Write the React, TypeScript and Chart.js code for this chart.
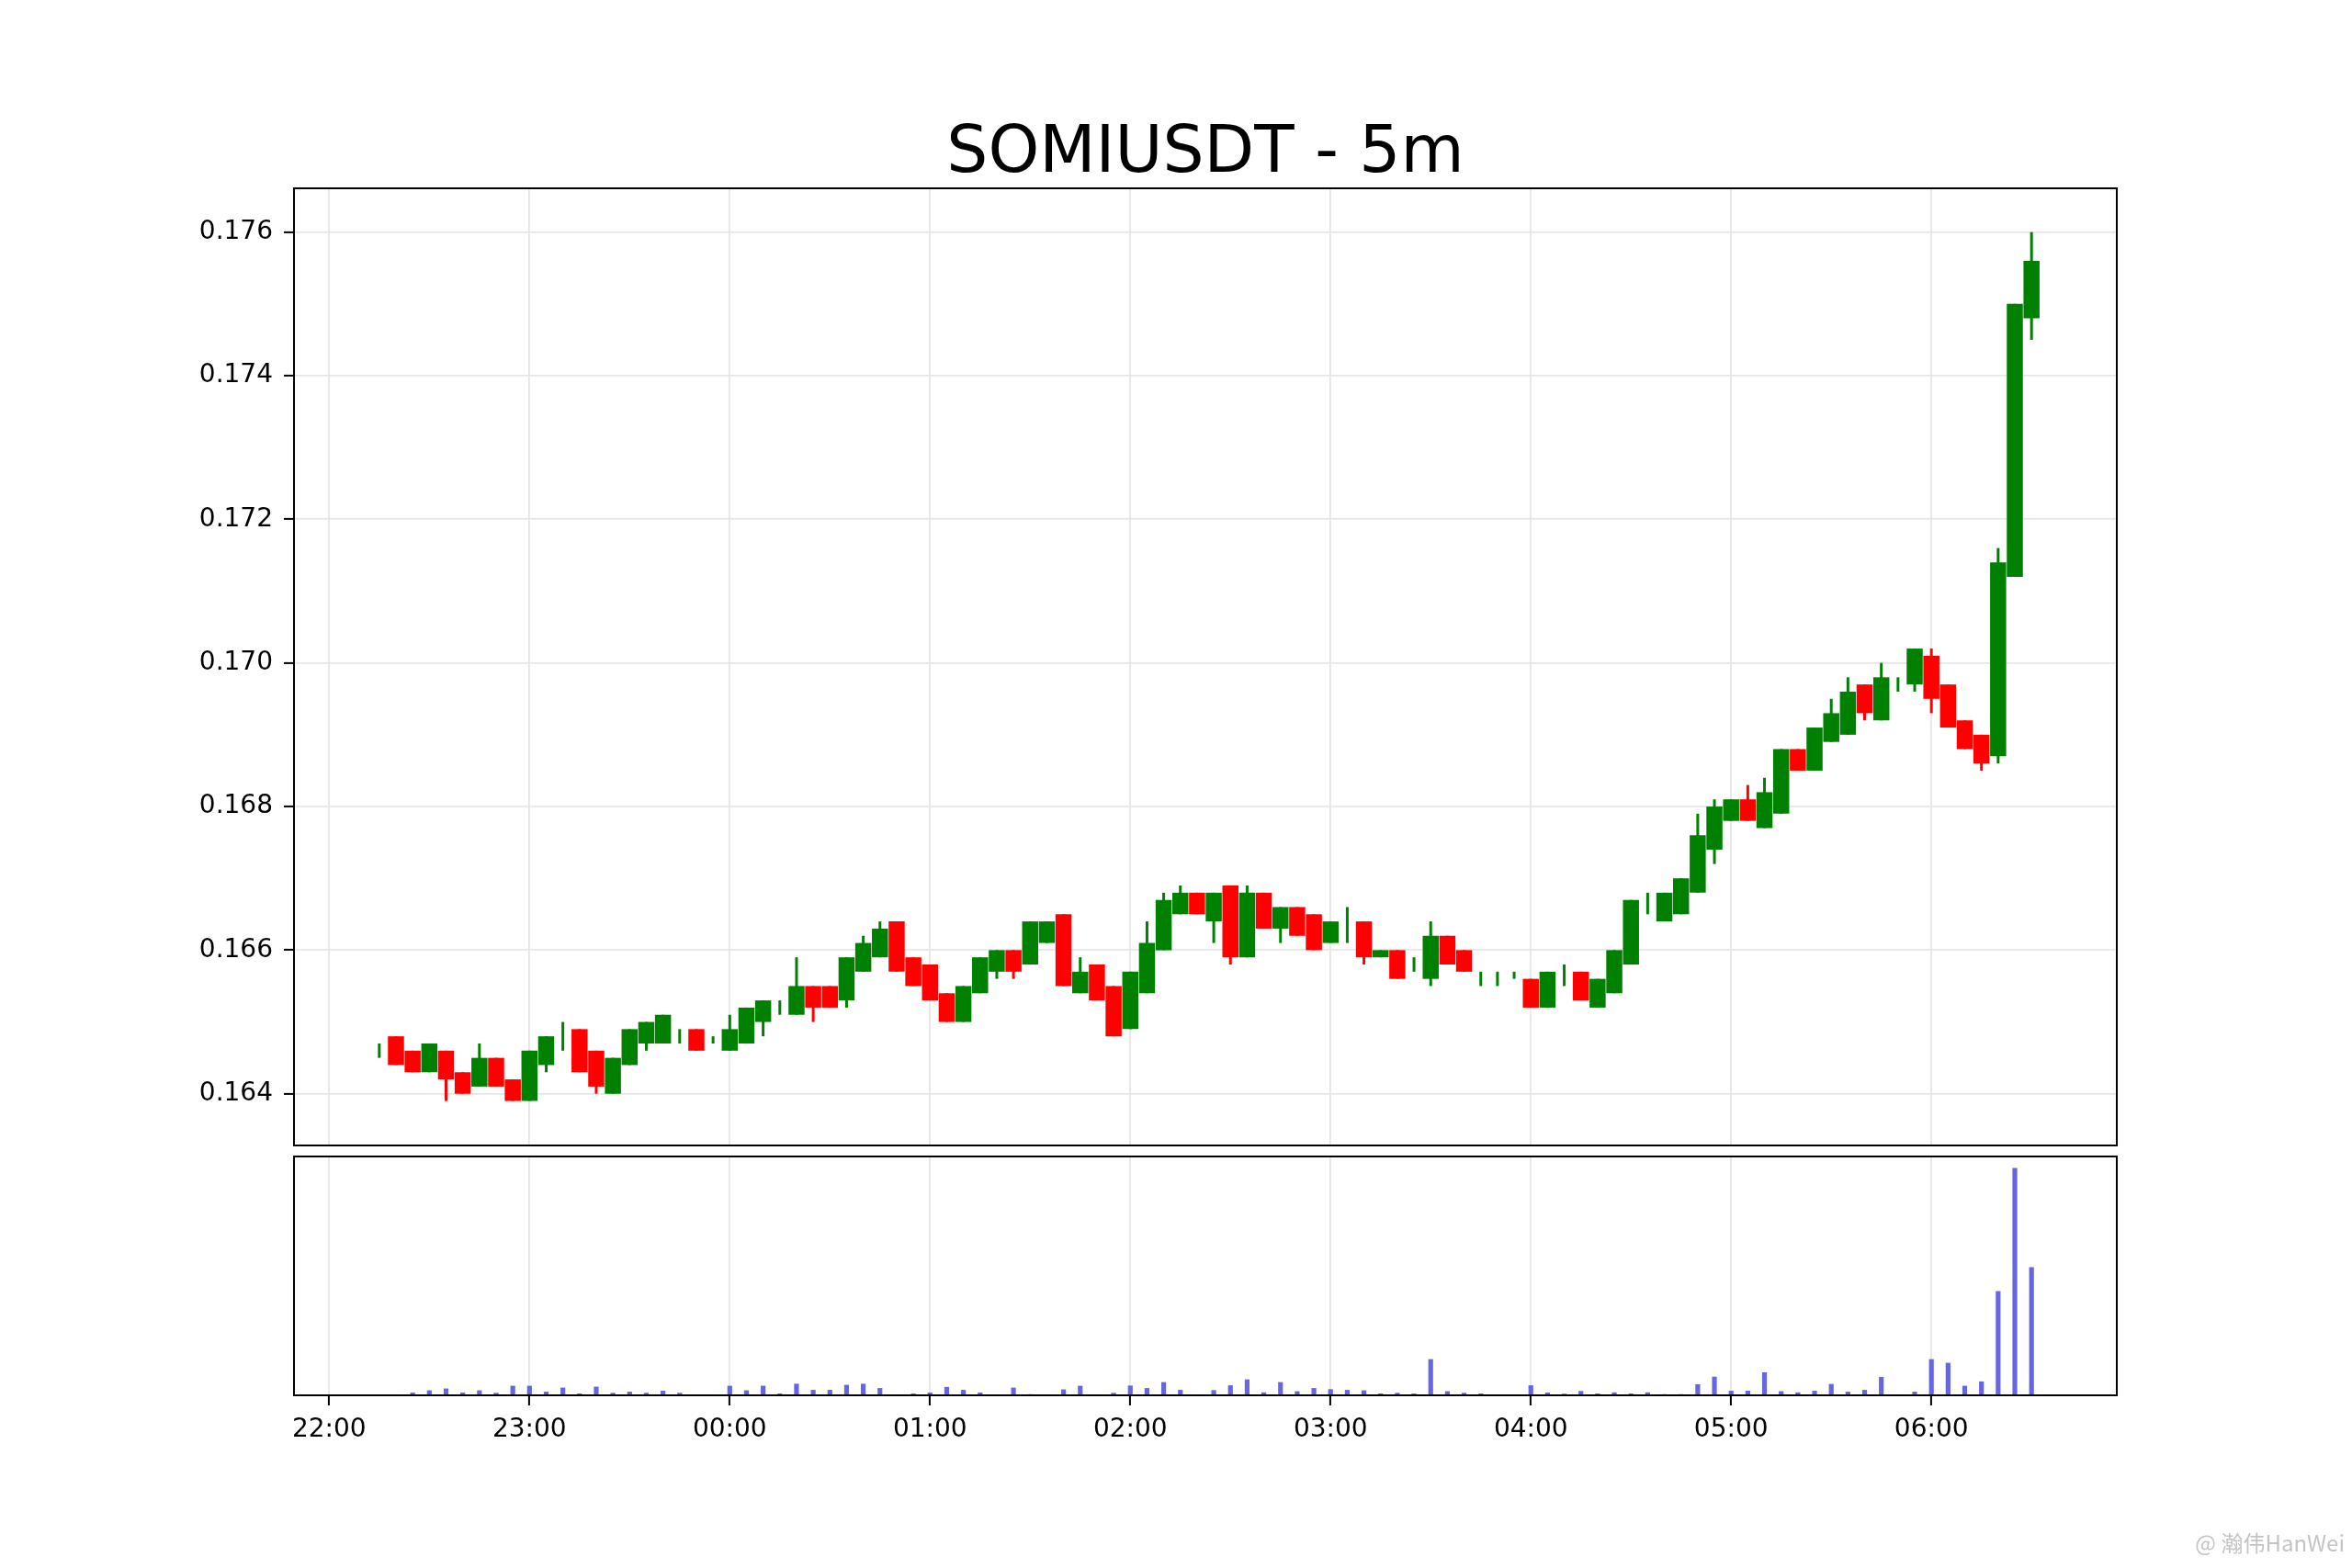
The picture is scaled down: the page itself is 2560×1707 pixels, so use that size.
import React, { useEffect, useRef } from "react";
import { Chart, registerables } from "chart.js";

Chart.register(...registerables);

const TITLE = "SOMIUSDT - 5m";
const WATERMARK = "@ 瀚伟HanWei";

const times = [
  "22:15", "22:20", "22:25", "22:30", "22:35", "22:40", "22:45", "22:50", "22:55",
  "23:00", "23:05", "23:10", "23:15", "23:20", "23:25", "23:30", "23:35", "23:40", "23:45", "23:50", "23:55",
  "00:00", "00:05", "00:10", "00:15", "00:20", "00:25", "00:30", "00:35", "00:40", "00:45", "00:50", "00:55",
  "01:00", "01:05", "01:10", "01:15", "01:20", "01:25", "01:30", "01:35", "01:40", "01:45", "01:50", "01:55",
  "02:00", "02:05", "02:10", "02:15", "02:20", "02:25", "02:30", "02:35", "02:40", "02:45", "02:50", "02:55",
  "03:00", "03:05", "03:10", "03:15", "03:20", "03:25", "03:30", "03:35", "03:40", "03:45", "03:50", "03:55",
  "04:00", "04:05", "04:10", "04:15", "04:20", "04:25", "04:30", "04:35", "04:40", "04:45", "04:50", "04:55",
  "05:00", "05:05", "05:10", "05:15", "05:20", "05:25", "05:30", "05:35", "05:40", "05:45", "05:50", "05:55",
  "06:00", "06:05", "06:10", "06:15", "06:20", "06:25", "06:30",
];

const opens = [
  0.1646, 0.1648, 0.1646, 0.1643, 0.1646, 0.1643, 0.1641, 0.1645, 0.1642,
  0.1639, 0.1644, 0.1648, 0.1649, 0.1646, 0.1640, 0.1644, 0.1647, 0.1647, 0.1648, 0.1649, 0.1648,
  0.1646, 0.1647, 0.1650, 0.1652, 0.1651, 0.1655, 0.1655, 0.1653, 0.1657, 0.1659, 0.1664, 0.1659,
  0.1658, 0.1654, 0.1650, 0.1654, 0.1657, 0.1660, 0.1658, 0.1661, 0.1665, 0.1654, 0.1658, 0.1655,
  0.1649, 0.1654, 0.1660, 0.1665, 0.1668, 0.1664, 0.1669, 0.1659, 0.1668, 0.1663, 0.1666, 0.1665,
  0.1661, 0.1663, 0.1664, 0.1659, 0.1660, 0.1658, 0.1656, 0.1662, 0.1660, 0.1656, 0.1656, 0.1656,
  0.1656, 0.1652, 0.1656, 0.1657, 0.1652, 0.1654, 0.1658, 0.1666, 0.1664, 0.1665, 0.1668, 0.1674,
  0.1678, 0.1681, 0.1677, 0.1679, 0.1688, 0.1685, 0.1689, 0.1690, 0.1697, 0.1692, 0.1697, 0.1697,
  0.1701, 0.1697, 0.1692, 0.1690, 0.1687, 0.1712, 0.1748,
];

const highs = [
  0.1647, 0.1648, 0.1646, 0.1647, 0.1646, 0.1643, 0.1647, 0.1645, 0.1642,
  0.1646, 0.1648, 0.1650, 0.1649, 0.1646, 0.1645, 0.1649, 0.1650, 0.1651, 0.1649, 0.1649, 0.1648,
  0.1651, 0.1652, 0.1653, 0.1653, 0.1659, 0.1655, 0.1655, 0.1659, 0.1662, 0.1664, 0.1664, 0.1659,
  0.1658, 0.1654, 0.1655, 0.1659, 0.1660, 0.1660, 0.1664, 0.1664, 0.1665, 0.1659, 0.1658, 0.1655,
  0.1657, 0.1664, 0.1668, 0.1669, 0.1668, 0.1668, 0.1669, 0.1669, 0.1668, 0.1666, 0.1666, 0.1665,
  0.1664, 0.1666, 0.1664, 0.1660, 0.1660, 0.1659, 0.1664, 0.1662, 0.1660, 0.1657, 0.1657, 0.1657,
  0.1656, 0.1657, 0.1658, 0.1657, 0.1656, 0.1660, 0.1667, 0.1668, 0.1668, 0.1670, 0.1679, 0.1681,
  0.1681, 0.1683, 0.1684, 0.1688, 0.1688, 0.1691, 0.1695, 0.1698, 0.1697, 0.1700, 0.1698, 0.1702,
  0.1702, 0.1697, 0.1692, 0.1690, 0.1716, 0.1750, 0.1760,
];

const lows = [
  0.1645, 0.1644, 0.1643, 0.1643, 0.1639, 0.1640, 0.1641, 0.1641, 0.1639,
  0.1639, 0.1643, 0.1646, 0.1643, 0.1640, 0.1640, 0.1644, 0.1646, 0.1647, 0.1647, 0.1646, 0.1647,
  0.1646, 0.1647, 0.1648, 0.1651, 0.1651, 0.1650, 0.1652, 0.1652, 0.1657, 0.1659, 0.1657, 0.1655,
  0.1653, 0.1650, 0.1650, 0.1654, 0.1656, 0.1656, 0.1658, 0.1661, 0.1655, 0.1654, 0.1653, 0.1648,
  0.1649, 0.1654, 0.1660, 0.1665, 0.1665, 0.1661, 0.1658, 0.1659, 0.1663, 0.1661, 0.1662, 0.1660,
  0.1661, 0.1661, 0.1658, 0.1659, 0.1656, 0.1657, 0.1655, 0.1658, 0.1657, 0.1655, 0.1655, 0.1656,
  0.1652, 0.1652, 0.1655, 0.1653, 0.1652, 0.1654, 0.1658, 0.1665, 0.1664, 0.1665, 0.1668, 0.1672,
  0.1678, 0.1678, 0.1677, 0.1679, 0.1685, 0.1685, 0.1689, 0.1690, 0.1692, 0.1692, 0.1696, 0.1696,
  0.1693, 0.1691, 0.1688, 0.1685, 0.1686, 0.1712, 0.1745,
];

const closes = [
  0.1646, 0.1644, 0.1643, 0.1647, 0.1642, 0.1640, 0.1645, 0.1641, 0.1639,
  0.1646, 0.1648, 0.1648, 0.1643, 0.1641, 0.1645, 0.1649, 0.1650, 0.1651, 0.1648, 0.1646, 0.1648,
  0.1649, 0.1652, 0.1653, 0.1652, 0.1655, 0.1652, 0.1652, 0.1659, 0.1661, 0.1663, 0.1657, 0.1655,
  0.1653, 0.1650, 0.1655, 0.1659, 0.1660, 0.1657, 0.1664, 0.1664, 0.1655, 0.1657, 0.1653, 0.1648,
  0.1657, 0.1661, 0.1667, 0.1668, 0.1665, 0.1668, 0.1659, 0.1668, 0.1663, 0.1666, 0.1662, 0.1660,
  0.1664, 0.1663, 0.1659, 0.1660, 0.1656, 0.1658, 0.1662, 0.1658, 0.1657, 0.1656, 0.1656, 0.1656,
  0.1652, 0.1657, 0.1656, 0.1653, 0.1656, 0.1660, 0.1667, 0.1666, 0.1668, 0.1670, 0.1676, 0.1680,
  0.1681, 0.1678, 0.1682, 0.1688, 0.1685, 0.1691, 0.1693, 0.1696, 0.1693, 0.1698, 0.1697, 0.1702,
  0.1695, 0.1691, 0.1688, 0.1686, 0.1714, 0.1750, 0.1756,
];

const volumes = [
  0.2, 0.2, 1.2, 2.2, 3.0, 1.2, 2.2, 1.1, 4.2,
  4.2, 1.6, 3.4, 0.8, 3.8, 1.1, 1.6, 1.1, 2.0, 1.1, 0.2, 0.4,
  4.2, 2.2, 4.2, 0.8, 5.1, 2.4, 2.4, 4.6, 5.1, 3.2, 0.3, 0.8,
  1.2, 3.7, 2.4, 1.2, 0.4, 3.4, 0.5, 0.3, 2.6, 4.2, 0.1, 1.1,
  4.3, 3.2, 5.8, 2.4, 0.1, 2.3, 4.4, 7.0, 1.3, 5.8, 1.8, 3.2,
  2.7, 2.4, 2.2, 0.8, 1.1, 0.8, 15.9, 1.8, 1.1, 0.8, 0.3, 0.2,
  4.4, 1.2, 0.7, 1.9, 0.8, 1.3, 0.8, 1.3, 0.5, 0.5, 4.9, 8.2,
  2.0, 2.0, 10.1, 1.8, 1.3, 2.0, 5.0, 1.6, 2.4, 8.1, 0.2, 1.6,
  15.9, 14.3, 4.2, 6.1, 45.8, 100, 56.3,
];

const xTickLabels = ["22:00", "23:00", "00:00", "01:00", "02:00", "03:00", "04:00", "05:00", "06:00"];
const yTickValues = [0.164, 0.166, 0.168, 0.17, 0.172, 0.174, 0.176];

// minutes elapsed since 22:00
function toMinutes(t: string): number {
  const [h, m] = t.split(":").map(Number);
  const hh = h >= 12 ? h - 22 : h + 2;
  return hh * 60 + m;
}

const xTickValues = xTickLabels.map(toMinutes);

const X_MIN = -10.55;
const X_MAX = 535.55;
const Y_MIN = 0.16328;
const Y_MAX = 0.17661;
const VOL_MAX = 105;

const GREEN = "#008000";
const RED = "#ff0000";
const VOL_COLOR = "#6666e0";
const GRID = "#e6e6e6";
const FONT = "'DejaVu Sans', 'Liberation Sans', sans-serif";

const framePlugin = {
  id: "frame",
  afterDraw(chart: any) {
    const { ctx, chartArea } = chart;
    ctx.save();
    ctx.strokeStyle = "#000";
    ctx.lineWidth = 2;
    ctx.strokeRect(chartArea.left, chartArea.top, chartArea.right - chartArea.left, chartArea.bottom - chartArea.top);
    ctx.restore();
  },
};

const titlePlugin = {
  id: "mplTitle",
  afterDraw(chart: any) {
    const { ctx, chartArea } = chart;
    ctx.save();
    ctx.font = `71px ${FONT}`;
    ctx.fillStyle = "#000";
    ctx.textAlign = "center";
    ctx.textBaseline = "alphabetic";
    ctx.fillText(TITLE, (chartArea.left + chartArea.right) / 2, chartArea.top - 18);
    ctx.restore();
  },
};

const watermarkPlugin = {
  id: "watermark",
  afterDraw(chart: any) {
    const { ctx, width } = chart;
    ctx.save();
    ctx.font = `24px 'Noto Sans CJK SC', 'Noto Sans', sans-serif`;
    ctx.fillStyle = "#c4c4c4";
    ctx.textAlign = "right";
    ctx.textBaseline = "alphabetic";
    ctx.fillText(WATERMARK, width - 8, 436);
    ctx.restore();
  },
};

const noEdgePadding = (s: any) => {
  s.paddingTop = 0;
  s.paddingBottom = 0;
  s.paddingLeft = 0;
  s.paddingRight = 0;
};

export default function App() {
  const priceRef = useRef<HTMLCanvasElement | null>(null);
  const volRef = useRef<HTMLCanvasElement | null>(null);

  useEffect(() => {
    if (!priceRef.current || !volRef.current) return;
    const xs = times.map(toMinutes);
    const colors = closes.map((c, i) => (c >= opens[i] ? GREEN : RED));

    const priceChart = new Chart(priceRef.current, {
      type: "bar",
      data: {
        datasets: [
          {
            label: "wick",
            data: xs.map((x, i) => ({ x, y: [lows[i], highs[i]] })) as any,
            backgroundColor: colors,
            barThickness: 3,
            grouped: false,
            borderWidth: 0,
            inflateAmount: 0,
          } as any,
          {
            label: "body",
            data: xs.map((x, i) => ({ x, y: [opens[i], closes[i]] })) as any,
            backgroundColor: colors,
            barThickness: 17.5,
            grouped: false,
            borderWidth: 0,
            inflateAmount: 0,
          } as any,
        ],
      },
      options: {
        responsive: false,
        animation: false,
        devicePixelRatio: 1,
        layout: { padding: { left: 0, right: 256, top: 205, bottom: 6 } },
        plugins: { legend: { display: false }, tooltip: { enabled: false }, title: { display: false } },
        scales: {
          x: {
            type: "linear",
            min: X_MIN,
            max: X_MAX,
            offset: false,
            grid: { offset: false, color: GRID, lineWidth: 1.8, drawTicks: false },
            border: { display: false },
            ticks: { display: false },
            afterBuildTicks: (s: any) => {
              s.ticks = xTickValues.map((v) => ({ value: v }));
            },
            afterFit: (s: any) => {
              s.height = 0;
              noEdgePadding(s);
            },
          },
          y: {
            type: "linear",
            min: Y_MIN,
            max: Y_MAX,
            grid: { color: GRID, lineWidth: 1.8, tickColor: "#000", tickLength: 11, tickWidth: 2 },
            border: { display: false },
            ticks: {
              color: "#000",
              font: { family: FONT, size: 28 },
              padding: 12,
              callback: (v: any) => Number(v).toFixed(3),
            },
            afterBuildTicks: (s: any) => {
              s.ticks = yTickValues.map((v) => ({ value: v }));
            },
            afterFit: (s: any) => {
              s.width = 320;
              noEdgePadding(s);
            },
          },
        },
      } as any,
      plugins: [framePlugin, titlePlugin],
    });

    const volChart = new Chart(volRef.current, {
      type: "bar",
      data: {
        datasets: [
          {
            label: "volume",
            data: xs.map((x, i) => ({ x, y: volumes[i] })) as any,
            backgroundColor: VOL_COLOR,
            barThickness: 5.2,
            grouped: false,
            borderWidth: 0,
            inflateAmount: 0,
          } as any,
        ],
      },
      options: {
        responsive: false,
        animation: false,
        devicePixelRatio: 1,
        layout: { padding: { left: 320, right: 256, top: 6, bottom: 128 } },
        plugins: { legend: { display: false }, tooltip: { enabled: false } },
        scales: {
          x: {
            type: "linear",
            min: X_MIN,
            max: X_MAX,
            offset: false,
            grid: { offset: false, color: GRID, lineWidth: 1.8, tickColor: "#000", tickLength: 11, tickWidth: 2 },
            border: { display: false },
            ticks: {
              color: "#000",
              font: { family: FONT, size: 28 },
              padding: 10,
              maxRotation: 0,
              autoSkip: false,
              callback: (v: any) => {
                const k = xTickValues.indexOf(Number(v));
                return k >= 0 ? xTickLabels[k] : "";
              },
            },
            afterBuildTicks: (s: any) => {
              s.ticks = xTickValues.map((v) => ({ value: v }));
            },
            afterFit: (s: any) => {
              s.height = 60;
              noEdgePadding(s);
            },
          },
          y: { display: false, min: 0, max: VOL_MAX },
        },
      } as any,
      plugins: [framePlugin, watermarkPlugin],
    });

    return () => {
      priceChart.destroy();
      volChart.destroy();
    };
  }, []);

  return (
    <div style={{ position: "fixed", left: 0, top: 0, width: 2560, height: 1707, background: "#fff", overflow: "hidden" }}>
      <canvas ref={priceRef} width={2560} height={1253} style={{ position: "absolute", left: 0, top: 0, width: 2560, height: 1253 }} />
      <canvas ref={volRef} width={2560} height={454} style={{ position: "absolute", left: 0, top: 1253, width: 2560, height: 454 }} />
    </div>
  );
}
